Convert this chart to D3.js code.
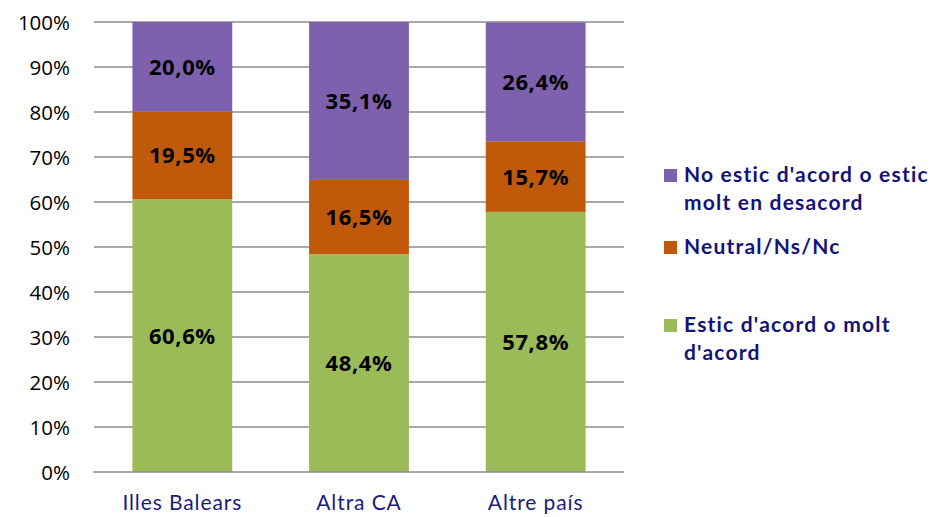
<!DOCTYPE html>
<html>
<head>
<meta charset="utf-8">
<script src="https://cdn.jsdelivr.net/npm/d3@7"></script>
<style>
  html, body { margin: 0; padding: 0; background: #fff; }
  svg { display: block; }
</style>
</head>
<body>
<svg id="chart" width="935" height="517"></svg>
<script>
// Categories, series and tick labels
const categories = ["Illes Balears", "Altra CA", "Altre país"];
const agree    = [60.6, 48.4, 57.8];
const neutral  = [19.5, 16.5, 15.7];
const disagree = [20.0, 35.1, 26.4];
const seriesNames = [
  "Estic d'acord o molt d'acord",
  "Neutral/Ns/Nc",
  "No estic d'acord o estic molt en desacord"
];
const legendLines = [
  ["No estic d'acord o estic", "molt en desacord"],
  ["Neutral/Ns/Nc"],
  ["Estic d'acord o molt", "d'acord"]
];
const yTicks = [0, 10, 20, 30, 40, 50, 60, 70, 80, 90, 100];
const colors = ["#9bbb59", "#c0590a", "#7d60ae"];

const svg = d3.select("#chart");
const margin = { left: 94, right: 311, top: 22, bottom: 45 };
const W = 935, H = 517;

const x = d3.scaleBand().domain(categories)
  .range([margin.left, W - margin.right]).paddingInner(0.435).paddingOuter(0.2175);
const y = d3.scaleLinear().domain([0, 100]).range([H - margin.bottom, margin.top]);

// gridlines
svg.append("g").selectAll("line").data(yTicks.filter(t => t > 0)).join("line")
  .attr("x1", margin.left).attr("x2", W - margin.right)
  .attr("y1", d => y(d)).attr("y2", d => y(d))
  .attr("stroke", "#8c8c8c").attr("stroke-width", 1.3);

// stacked data
const rows = categories.map((c, i) => ({ cat: c, s0: agree[i], s1: neutral[i], s2: disagree[i] }));
const stack = d3.stack().keys(["s0", "s1", "s2"]);
const layers = stack(rows);

const plot = svg.append("g");
layers.forEach((layer, li) => {
  plot.append("g").selectAll("rect").data(layer).join("rect")
    .attr("x", d => x(d.data.cat))
    .attr("width", x.bandwidth())
    .attr("y", d => y(Math.min(100, d[1])))
    .attr("height", d => y(d[0]) - y(Math.min(100, d[1])))
    .attr("fill", colors[li]);
});

// value labels
layers.forEach((layer, li) => {
  plot.append("g").selectAll("text").data(layer).join("text")
    .attr("x", d => x(d.data.cat) + x.bandwidth() / 2)
    .attr("y", d => (y(d[0]) + y(Math.min(100, d[1]))) / 2 + 8)
    .attr("text-anchor", "middle")
    .attr("font-family", "'Open Sans', sans-serif")
    .attr("font-weight", "bold")
    .attr("font-size", 22)
    .attr("letter-spacing", 0.6)
    .attr("fill", "#000")
    .text(d => (d[1] - d[0]).toFixed(1).replace(".", ",") + "%");
});

// x axis line
svg.append("line")
  .attr("x1", margin.left - 1).attr("x2", W - margin.right)
  .attr("y1", y(0)).attr("y2", y(0))
  .attr("stroke", "#8c8c8c").attr("stroke-width", 1.5);

// y tick labels
svg.append("g").selectAll("text").data(yTicks).join("text")
  .attr("x", 70).attr("y", d => y(d) + 7.5)
  .attr("text-anchor", "end")
  .attr("font-family", "'Open Sans', sans-serif")
  .attr("font-size", 20.5)
  .attr("fill", "#000")
  .text(d => d + "%");

// category labels
svg.append("g").selectAll("text").data(categories).join("text")
  .attr("x", d => x(d) + x.bandwidth() / 2)
  .attr("y", 510)
  .attr("text-anchor", "middle")
  .attr("font-family", "Lato, sans-serif")
  .attr("font-size", 21)
  .attr("letter-spacing", 0.9)
  .attr("fill", "#1b1b7e")
  .text(d => d);

// legend
const legendY = [182, 254, 332];
const legendColors = [colors[2], colors[1], colors[0]];
const lg = svg.append("g");
legendLines.forEach((lines, i) => {
  lg.append("rect")
    .attr("x", 664).attr("y", legendY[i] - 13)
    .attr("width", 13).attr("height", 13)
    .attr("fill", legendColors[i]);
  const t = lg.append("text")
    .attr("x", 684).attr("y", legendY[i])
    .attr("font-family", "Lato, sans-serif")
    .attr("font-weight", "bold")
    .attr("font-size", 21)
    .attr("letter-spacing", 1.2)
    .attr("fill", "#14137a");
  lines.forEach((ln, j) => {
    t.append("tspan").attr("x", 684).attr("dy", j === 0 ? 0 : 28).text(ln);
  });
});
</script>
</body>
</html>
